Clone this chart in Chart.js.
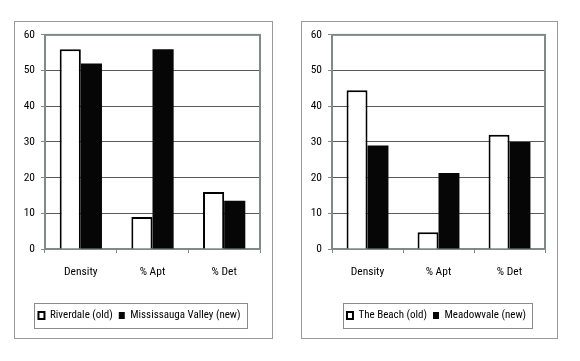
<!DOCTYPE html>
<html lang="en">
<head>
    <meta charset="UTF-8">
    <title>Old vs New Neighbourhoods</title>
    <script src="https://cdn.jsdelivr.net/npm/chart.js"></script>
    <style>
        body { margin: 0; background: #fff; width: 580px; height: 361px; position: relative; overflow: hidden; }
        .panel { position: absolute; top: 21px; height: 318px; box-sizing: border-box; border: 1px solid #9a9a9a; }
        .panel canvas { position: absolute; left: 0; top: 0; }
    </style>
</head>
<body>
    <div class="panel" style="left:14px; width:259px;">
        <canvas id="leftChart" width="257" height="316"></canvas>
    </div>
    <div class="panel" style="left:301px; width:257px;">
        <canvas id="rightChart" width="255" height="316"></canvas>
    </div>

    <script>
        // values
        const categories = ["Density", "% Apt", "% Det"];
        const riverdaleOld = [56, 9, 16];
        const mississaugaNew = [52, 56, 13.5];
        const beachOld = [44.5, 4.7, 32];
        const meadowvaleNew = [29, 21.3, 30];
        const yMin = 0, yMax = 60, yStep = 10;

        const FONT = "'Roboto Condensed', 'Liberation Sans', Arial, sans-serif";
        const FRAME = "#7e8b89";

        // frame round the plot area and round the legend
        const framePlugin = {
            id: "frames",
            afterLayout(chart) {
                const shift = chart.options.plugins.frames.legendShift || 0;
                chart.legend.left += shift;
                chart.legend.right += shift;
            },
            beforeDatasetsDraw(chart) {
                const a = chart.chartArea, ctx = chart.ctx;
                ctx.save();
                ctx.strokeStyle = FRAME;
                ctx.lineWidth = 2;
                ctx.strokeRect(a.left, a.top, a.right - a.left, a.bottom - a.top);
                ctx.restore();
            },
            afterDraw(chart) {
                const boxes = chart.legend.legendHitBoxes;
                if (!boxes || !boxes.length) return;
                const first = boxes[0], last = boxes[boxes.length - 1];
                const ctx = chart.ctx;
                ctx.save();
                ctx.strokeStyle = "#8a8a8a";
                ctx.lineWidth = 1;
                const l = Math.round(first.left - 4) + 0.5;
                const r = Math.round(last.left + last.width + 6) + 0.5;
                const t = Math.round(first.top - 7) + 0.5;
                const b = Math.round(first.top + first.height + 7) + 0.5;
                ctx.strokeRect(l, t, r - l, b - t);
                ctx.restore();
            }
        };

        function makeChart(id, oldLabel, oldData, newLabel, newData, legendShift) {
            const ctx = document.getElementById(id).getContext("2d");
            return new Chart(ctx, {
                type: "bar",
                data: {
                    labels: categories,
                    datasets: [
                        {
                            label: oldLabel,
                            data: oldData,
                            backgroundColor: "#ffffff",
                            borderColor: "#000000",
                            borderWidth: 2,
                            categoryPercentage: 0.59,
                            barPercentage: 1.0
                        },
                        {
                            label: newLabel,
                            data: newData,
                            backgroundColor: "#060606",
                            borderColor: "#000000",
                            borderWidth: 0,
                            categoryPercentage: 0.59,
                            barPercentage: 1.0
                        }
                    ]
                },
                options: {
                    responsive: false,
                    animation: false,
                    layout: { padding: { top: 12, right: 12, bottom: 7, left: 0 } },
                    plugins: {
                        tooltip: { enabled: false },
                        frames: { legendShift: legendShift },
                        legend: {
                            position: "bottom",
                            labels: {
                                color: "#000",
                                font: { family: FONT, size: 11 },
                                boxWidth: 6,
                                boxHeight: 7,
                                padding: 6
                            }
                        }
                    },
                    scales: {
                        x: {
                            afterFit: s => { s.height = 55; },
                            border: { display: false },
                            grid: {
                                display: true,
                                drawOnChartArea: false,
                                drawTicks: true,
                                tickLength: 4,
                                tickColor: FRAME,
                                color: FRAME
                            },
                            ticks: {
                                color: "#000",
                                padding: 12,
                                font: { family: FONT, size: 11.5 }
                            }
                        },
                        y: {
                            min: yMin,
                            max: yMax,
                            afterFit: s => { s.width = 30; },
                            border: { display: false },
                            grid: {
                                color: "#5a5a5a",
                                lineWidth: 1,
                                tickLength: 4,
                                tickColor: FRAME
                            },
                            ticks: {
                                stepSize: yStep,
                                color: "#000",
                                padding: 6,
                                font: { family: FONT, size: 11.5 }
                            }
                        }
                    }
                },
                plugins: [framePlugin]
            });
        }

        makeChart("leftChart", "Riverdale (old)", riverdaleOld, "Mississauga Valley (new)", mississaugaNew, 2);
        makeChart("rightChart", "The Beach (old)", beachOld, "Meadowvale (new)", meadowvaleNew, 13);
    </script>
</body>
</html>
